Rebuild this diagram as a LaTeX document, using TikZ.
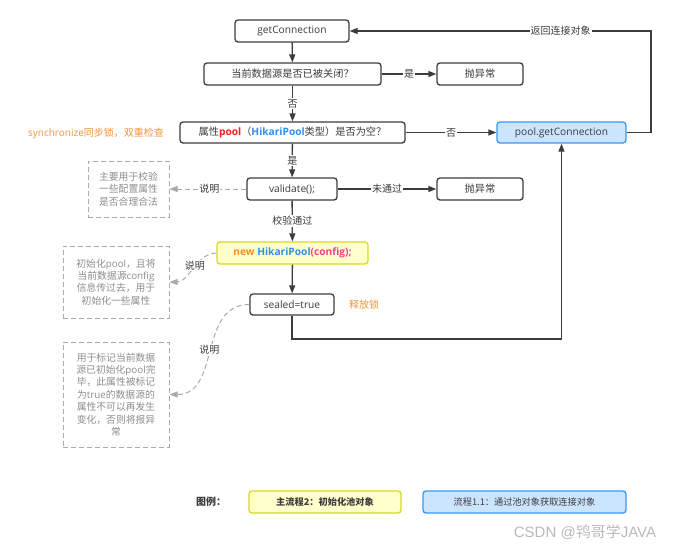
\documentclass[tikz,border=0pt]{standalone}
\usepackage{fontspec}
\setmainfont{Noto Sans CJK SC}
\newfontfamily\lat{Open Sans}
\newfontfamily\markfont{Liberation Sans}
\usepackage{xcolor}
\usetikzlibrary{arrows.meta}

\definecolor{boxline}{HTML}{3C3C3C}
\definecolor{notegray}{HTML}{8C8C8C}
\definecolor{dashgray}{HTML}{AAAAAA}
\definecolor{lockorange}{HTML}{F0953A}
\definecolor{yelfill}{HTML}{FFFFCC}
\definecolor{yelline}{HTML}{D8D820}
\definecolor{bluefill}{HTML}{CCE5FF}
\definecolor{blueline}{HTML}{3399FF}
\definecolor{poolred}{HTML}{FF1A1A}
\definecolor{hikblue}{HTML}{2E8FF0}
\definecolor{newor}{HTML}{FF8C1A}
\definecolor{cfgpink}{HTML}{FF3C96}

\tikzset{
  flowbox/.style={draw=boxline, line width=1.3pt, rounded corners=3pt, fill=white,
    inner sep=0pt, font=\fontsize{10.2}{12}\selectfont, text=boxline},
  notebox/.style={draw=dashgray, line width=1pt, dash pattern=on 5pt off 3pt,
    inner sep=2pt, align=center, text=notegray, font=\fontsize{9.8}{12.4}\selectfont},
  flow/.style={draw=boxline, line width=1.3pt, -{Triangle[length=8pt,width=6pt]}},
  hint/.style={draw=dashgray, line width=1pt, dash pattern=on 5pt off 3pt,
    -{Triangle[length=8pt,width=6pt,fill=dashgray]}},
  lbl/.style={fill=white, inner sep=1pt, text=boxline, font=\fontsize{10}{12}\selectfont},
  remark/.style={text=lockorange, font=\fontsize{10}{12}\selectfont}
}

\begin{document}
\begin{tikzpicture}[x=1pt,y=-1pt]
\useasboundingbox (0,0) rectangle (685,550);

\node[flowbox, minimum width=114pt, minimum height=22pt] (gc) at (292,31) {\lat getConnection};
\node[flowbox, minimum width=177pt, minimum height=22pt] (closed) at (292.5,74) {当前数据源是否已被关闭？};
\node[flowbox, minimum width=86pt, minimum height=22pt] (ex1) at (480,74) {抛异常};
\node[flowbox, minimum width=225pt, minimum height=21pt] (empty) at (292.5,132.5)
  {属性\textcolor{poolred}{\lat\bfseries pool}（\textcolor{hikblue}{\lat\bfseries HikariPool}类型）是否为空？};
\node[flowbox, fill=bluefill, draw=blueline, minimum width=129pt, minimum height=21pt] (pgc) at (561.5,132.5) {\lat pool.getConnection};
\node[flowbox, minimum width=90pt, minimum height=22pt] (val) at (292,189) {\lat validate();};
\node[flowbox, minimum width=86pt, minimum height=22pt] (ex2) at (480,189) {抛异常};
\node[flowbox, fill=yelfill, draw=yelline, minimum width=151pt, minimum height=22pt] (newp) at (292.5,253)
  {\lat\bfseries\textcolor{newor}{new} \textcolor{hikblue}{HikariPool}\textcolor{cfgpink}{(config);}};
\node[flowbox, minimum width=84pt, minimum height=21pt] (seal) at (292,304.5) {\lat sealed=true};

\node[remark] (sync) at (96,133) {{\lat synchronize}同步锁，双重检查};
\node[remark] (unlock) at (364,304.5) {释放锁};

\node[notebox, minimum width=81pt, minimum height=56pt] (note1) at (128.5,189)
  {主要用于校验\\一些配置属性\\是否合理合法};
\node[notebox, minimum width=106pt, minimum height=72pt] (note2) at (116,282)
  {初始化{\lat pool}，且将\\当前数据源{\lat config}\\信息传过去，用于\\初始化一些属性};
\node[notebox, minimum width=106pt, minimum height=105pt] (note3) at (116,394.5)
  {用于标记当前数据\\源已初始化{\lat pool}完\\毕，此属性被标记\\为{\lat true}的数据源的\\属性不可以再发生\\变化，否则将报异\\常};

\draw[flow] (gc) -- (closed);
\draw[flow] (closed) -- node[lbl] (l1) {是} (ex1);
\draw[flow] (closed) -- node[lbl] (l2) {否} (empty);
\draw[flow] (empty) -- node[lbl] (l3) {否} (pgc);
\draw[flow] (pgc.east) -- (651,132.5) -- (651,31) -- node[lbl, pos=0.3] (l4) {返回连接对象} (gc.east);
\draw[flow] (empty) -- node[lbl] (l5) {是} (val);
\draw[flow] (val) -- node[lbl] (l6) {未通过} (ex2);
\draw[flow] (val) -- node[lbl] (l7) {校验通过} (newp);
\draw[flow] (newp) -- (seal);
\draw[flow] (seal.south) -- (292,339) -| (pgc.south);

\draw[hint] (val.west) -- node[lbl, pos=0.48] (l8) {说明} (note1.east);
\draw[hint] (newp.west) to[out=180, in=0, looseness=0.9] node[lbl, pos=0.45] (l9) {说明} (note2.east);
\draw[hint] (seal.west) to[out=180, in=0, looseness=1.1] node[lbl, pos=0.5] (l10) {说明} (note3.east);

\node[font=\fontsize{10}{12}\selectfont\bfseries, text=boxline] (legend) at (211,502) {图例：};
\node[flowbox, fill=yelfill, draw=yelline, minimum width=152pt, minimum height=22pt,
  font=\fontsize{9.2}{11}\selectfont\bfseries] (leg1) at (325,502) {主流程2：初始化池对象};
\node[flowbox, fill=bluefill, draw=blueline, minimum width=203pt, minimum height=22pt,
  font=\fontsize{9.2}{11}\selectfont] (leg2) at (524.5,502) {流程1.1：通过池对象获取连接对象};

\node[text=gray!55, font=\fontsize{15}{18}\selectfont] (mark) at (585,532) {{\markfont CSDN @}鸨哥学{\markfont JAVA}};
\end{tikzpicture}
\end{document}
